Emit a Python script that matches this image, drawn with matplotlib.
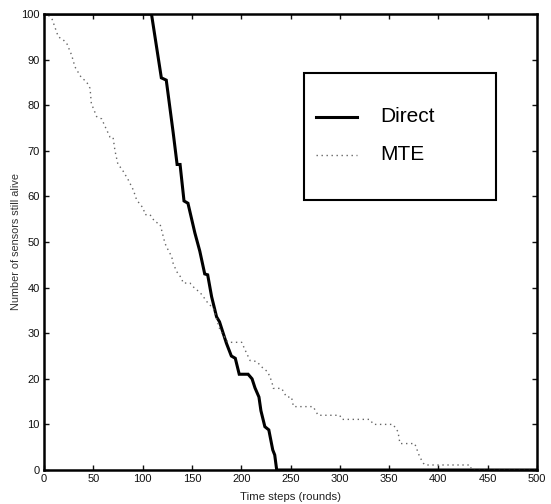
import matplotlib
matplotlib.use("Agg")
import matplotlib.pyplot as plt
from matplotlib.patches import Rectangle

plt.rcParams['font.family'] = ['Liberation Sans', 'DejaVu Sans']

# Data
direct_x = [0, 109, 119, 124, 131, 135, 138, 142, 146, 153, 158, 163, 166, 170, 175,
            178, 185, 190, 194, 198, 207, 211, 214, 218, 220, 224, 228, 232, 234, 236, 500]
direct_y = [100, 100, 86, 85.5, 74, 67, 67, 59, 58.5, 52, 48, 43, 42.8, 38, 33.6,
            32.5, 27.8, 25, 24.5, 21, 21, 20, 18, 16, 13, 9.5, 8.8, 4.4, 3.3, 0, 0]

mte_x = [0, 3, 8, 14.5, 19.6, 23, 28, 31.4, 38, 43, 46.7, 48, 53.4, 58.5, 62, 67, 70, 72,
         75, 79, 85.5, 90.6, 94, 100.7, 102.4, 107.5, 112.6, 117.6, 119.3, 122.7, 126,
         129.5, 131, 134.6, 139.7, 141, 148, 153, 158, 161.6, 166.6, 171.7, 178.5, 186.6,
         200.5, 204, 209, 215.7, 220.8, 227, 231, 232.6, 241, 246, 251, 253, 273, 278,
         300, 302, 330.6, 334, 354, 359, 361, 376, 381, 384.7, 386.5, 432, 433.7, 500]
mte_y = [100, 100, 99, 95, 94.3, 93.6, 91, 88.4, 86, 85.2, 83.7, 80.4, 77.5, 77, 75.3, 73,
         73, 70, 67, 66, 63.6, 61.4, 59.2, 57.4, 56, 56, 54.4, 54, 52.6, 49.7, 48.2, 46.8,
         45.3, 43.5, 42, 41, 41, 39.8, 39, 38, 36.5, 35.5, 30.7, 28, 28, 26.3, 24, 23.8,
         22.6, 21.5, 19.4, 17.9, 17.9, 16, 16, 13.9, 13.9, 12, 12, 11.1, 11.1, 10, 10,
         8.4, 5.8, 5.8, 2.9, 1.5, 1.1, 1.1, 0, 0]

x_ticks = [0, 50, 100, 150, 200, 250, 300, 350, 400, 450, 500]
y_ticks = [0, 10, 20, 30, 40, 50, 60, 70, 80, 90, 100]
labels = ["Direct", "MTE"]

fig = plt.figure(figsize=(5.51, 5.04), dpi=100)
ax = fig.add_axes([44 / 551, 1 - 470 / 504, 493 / 551, 456 / 504])

ax.plot(direct_x, direct_y, color='black', lw=2.2, solid_joinstyle='miter')
ax.plot(mte_x, mte_y, color='#666666', lw=1.0, linestyle=(0, (1, 2.6)))

ax.set_xlim(0, 500)
ax.set_ylim(0, 100)
ax.set_xticks(x_ticks)
ax.set_yticks(y_ticks)
ax.tick_params(direction='in', length=3.5, width=1.0, top=True, right=True,
               labelsize=8, pad=3, colors='#111111')
for s in ax.spines.values():
    s.set_linewidth(1.8)

ax.set_xlabel("Time steps (rounds)", fontsize=8.2, labelpad=5.5, color='#222222')
ax.set_ylabel("Number of sensors still alive", fontsize=7.8, labelpad=0.5, color='#333333')

# legend box
x0 = (304 - 44) / 493
y0 = (470 - 200) / 456
ax.add_patch(Rectangle((x0, y0), (496 - 304) / 493, (200 - 73) / 456,
                       transform=ax.transAxes, fill=False, lw=1.5, ec='black', zorder=5))
hx = [(316 - 44) / 493, (357 - 44) / 493]
ly1 = (470 - 117) / 456
ly2 = (470 - 155) / 456
ax.plot(hx, [ly1, ly1], transform=ax.transAxes, color='black', lw=2.2, zorder=6)
ax.plot(hx, [ly2, ly2], transform=ax.transAxes, color='#666666', lw=1.0,
        linestyle=(0, (1, 2.6)), zorder=6)
tx = (380 - 44) / 493
ax.text(tx, ly1, labels[0], transform=ax.transAxes, fontsize=15, va='center', ha='left', zorder=6)
ax.text(tx, ly2, labels[1], transform=ax.transAxes, fontsize=15, va='center', ha='left', zorder=6)

fig.savefig("out.png", dpi=100)
